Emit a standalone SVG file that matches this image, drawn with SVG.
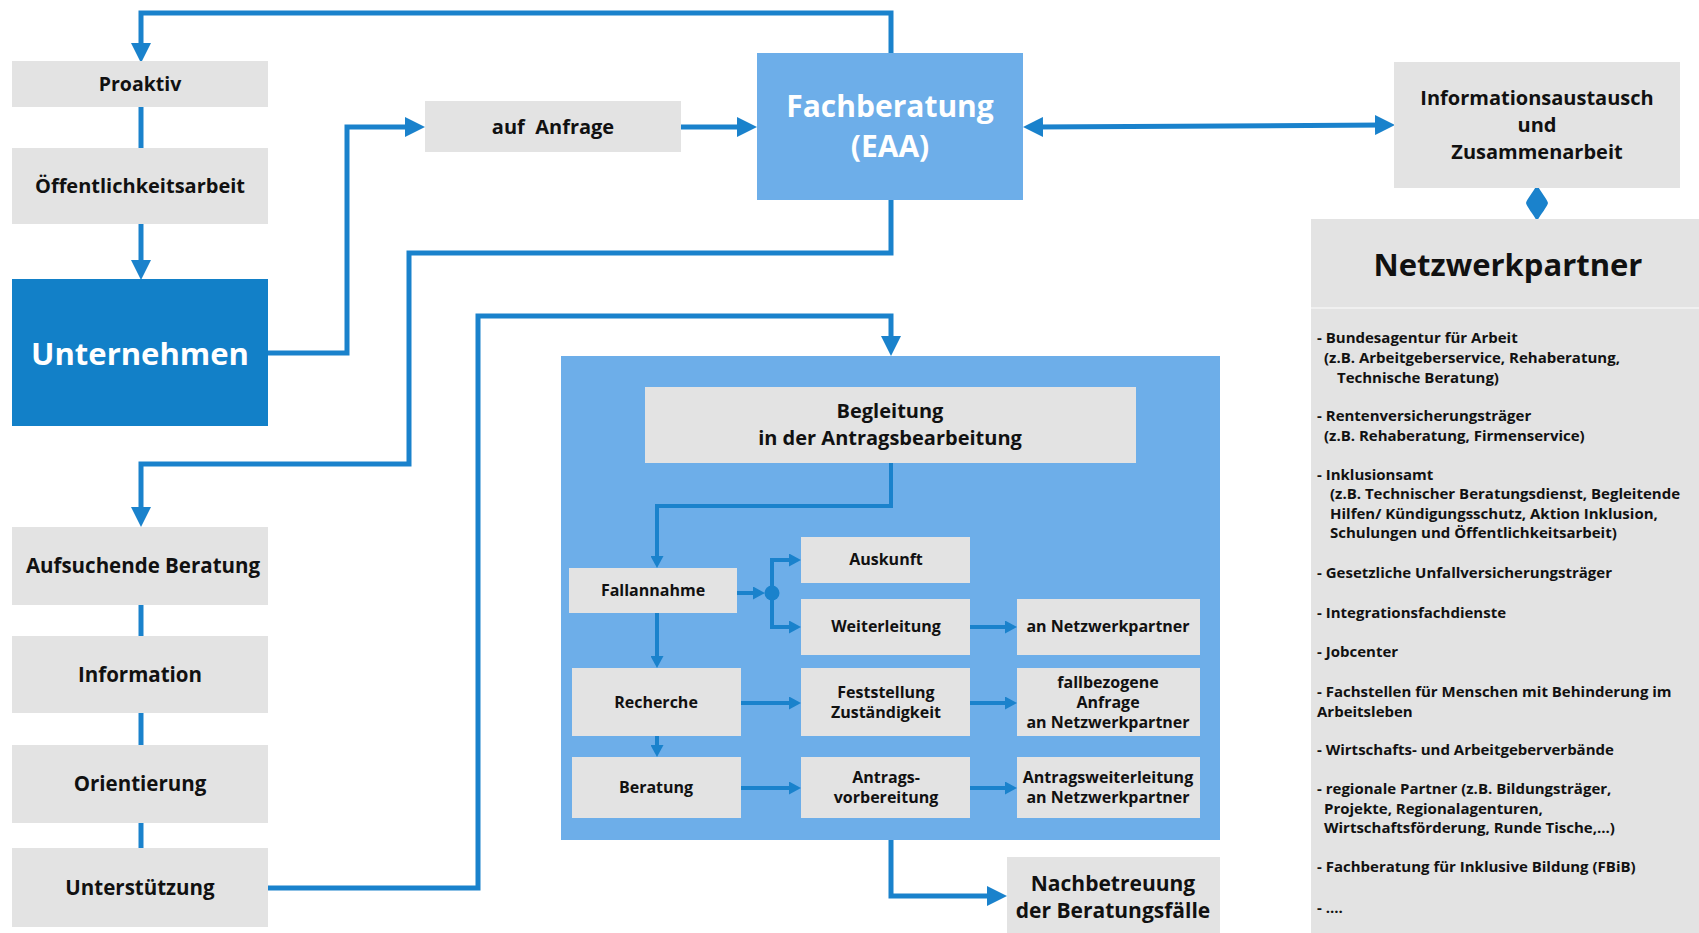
<svg xmlns="http://www.w3.org/2000/svg" width="1699" height="933" viewBox="0 0 1699 933">
<defs>
<style>
.g{fill:#e3e3e3}
.t{font-family:"Open Sans","Liberation Sans",sans-serif;font-weight:700;fill:#111;text-anchor:middle;dominant-baseline:central}
.w{fill:#fff}
.c{fill:none;stroke:#1a82cc;stroke-width:5;stroke-linejoin:miter}
.ci{fill:none;stroke:#1a82cc;stroke-width:4}
.l{font-family:"Open Sans","Liberation Sans",sans-serif;font-weight:700;fill:#111;font-size:15px}
</style>
<marker id="big" viewBox="0 0 20 20" refX="8" refY="10" markerWidth="20" markerHeight="20" markerUnits="userSpaceOnUse" orient="auto-start-reverse">
<path d="M0,0 L20,10 L0,20 Z" fill="#1a82cc"/>
</marker>
<marker id="sm" viewBox="0 0 12 13" refX="6" refY="6.5" markerWidth="12" markerHeight="13" markerUnits="userSpaceOnUse" orient="auto">
<path d="M0,0 L12,6.5 L0,13 Z" fill="#1a82cc"/>
</marker>
</defs>
<rect width="1699" height="933" fill="#fff"/>

<g id="container">
<rect x="561" y="356" width="659" height="484" fill="#6daee9"/>
</g>

<g id="connectors">
<path class="c" d="M891,53 V13 H141 V51" marker-end="url(#big)"/>
<path class="c" d="M141,107 V148"/>
<path class="c" d="M141,224 V268" marker-end="url(#big)"/>
<path class="c" d="M268,353 H347 V127 H413" marker-end="url(#big)"/>
<path class="c" d="M681,127 H745" marker-end="url(#big)"/>
<path class="c" d="M1035,127 L1383,125" marker-start="url(#big)" marker-end="url(#big)"/>
<path class="c" d="M891,200 V253 H409 V464 H141 V515" marker-end="url(#big)"/>
<path class="c" d="M141,605 V636"/>
<path class="c" d="M141,713 V745"/>
<path class="c" d="M141,823 V848"/>
<path class="c" d="M268,888 H478 V316 H891 V344" marker-end="url(#big)"/>
<path class="c" d="M891,840 V896 H995" marker-end="url(#big)"/>
<path d="M1537,185 C1541,192 1547,199 1548,203 C1547,207 1541,214 1537,221 C1533,214 1527,207 1526,203 C1527,199 1533,192 1537,185 Z" fill="#1a82cc"/>
<path class="ci" d="M891,463 V506 H657 V562" marker-end="url(#sm)"/>
<path class="ci" d="M737,593 H759" marker-end="url(#sm)"/>
<circle cx="772" cy="593" r="7.5" fill="#1a82cc"/>
<path class="ci" d="M772,593 V560 H795" marker-end="url(#sm)"/>
<path class="ci" d="M772,593 V627 H795" marker-end="url(#sm)"/>
<path class="ci" d="M970,627 H1011" marker-end="url(#sm)"/>
<path class="ci" d="M657,613 V662" marker-end="url(#sm)"/>
<path class="ci" d="M741,703 H795" marker-end="url(#sm)"/>
<path class="ci" d="M970,703 H1011" marker-end="url(#sm)"/>
<path class="ci" d="M657,736 V751" marker-end="url(#sm)"/>
<path class="ci" d="M741,788 H795" marker-end="url(#sm)"/>
<path class="ci" d="M970,788 H1011" marker-end="url(#sm)"/>
</g>

<g id="proaktiv"><rect class="g" x="12" y="61" width="256" height="46"/><text class="t" x="140" y="83" font-size="19.5">Proaktiv</text></g>
<g id="oeffentlichkeitsarbeit"><rect class="g" x="12" y="148" width="256" height="76"/><text class="t" x="140" y="185" font-size="20">Öffentlichkeitsarbeit</text></g>
<g id="unternehmen"><rect x="12" y="279" width="256" height="147" fill="#1280c8"/><text class="t w" x="140" y="353" font-size="31">Unternehmen</text></g>
<g id="aufanfrage"><rect class="g" x="425" y="101" width="256" height="51"/><text class="t" x="553" y="126" font-size="20" xml:space="preserve">auf  Anfrage</text></g>
<g id="fachberatung"><rect x="757" y="53" width="266" height="147" fill="#6daee9"/><text class="t w" x="890" y="105" font-size="30">Fachberatung</text><text class="t w" x="890" y="145" font-size="30">(EAA)</text></g>
<g id="info"><rect class="g" x="1394" y="62" width="286" height="126"/><text class="t" x="1537" y="97" font-size="20">Informationsaustausch</text><text class="t" x="1537" y="124" font-size="20">und</text><text class="t" x="1537" y="151" font-size="20">Zusammenarbeit</text></g>

<g id="aufsuchende"><rect class="g" x="12" y="527" width="256" height="78"/><text class="t" x="143" y="565" font-size="20.5">Aufsuchende Beratung</text></g>
<g id="information"><rect class="g" x="12" y="636" width="256" height="77"/><text class="t" x="140" y="674" font-size="20.5">Information</text></g>
<g id="orientierung"><rect class="g" x="12" y="745" width="256" height="78"/><text class="t" x="140" y="783" font-size="20.5">Orientierung</text></g>
<g id="unterstuetzung"><rect class="g" x="12" y="848" width="256" height="79"/><text class="t" x="140" y="887" font-size="20.5">Unterstützung</text></g>

<g id="begleitung"><rect class="g" x="645" y="387" width="491" height="76"/><text class="t" x="890" y="410" font-size="20">Begleitung</text><text class="t" x="890" y="437" font-size="20">in der Antragsbearbeitung</text></g>
<g id="fallannahme"><rect class="g" x="569" y="568" width="168" height="45"/><text class="t" x="653" y="590" font-size="16">Fallannahme</text></g>
<g id="auskunft"><rect class="g" x="801" y="537" width="169" height="46"/><text class="t" x="886" y="559" font-size="16">Auskunft</text></g>
<g id="weiterleitung"><rect class="g" x="801" y="599" width="169" height="56"/><text class="t" x="886" y="626" font-size="16">Weiterleitung</text></g>
<g id="annetzwerk"><rect class="g" x="1017" y="599" width="183" height="56"/><text class="t" x="1108" y="626" font-size="16">an Netzwerkpartner</text></g>
<g id="recherche"><rect class="g" x="572" y="668" width="169" height="68"/><text class="t" x="656" y="702" font-size="16">Recherche</text></g>
<g id="feststellung"><rect class="g" x="801" y="668" width="169" height="68"/><text class="t" x="886" y="692" font-size="16">Feststellung</text><text class="t" x="886" y="712" font-size="16">Zuständigkeit</text></g>
<g id="fallbezogene"><rect class="g" x="1017" y="668" width="183" height="68"/><text class="t" x="1108" y="682" font-size="16">fallbezogene</text><text class="t" x="1108" y="702" font-size="16">Anfrage</text><text class="t" x="1108" y="722" font-size="16">an Netzwerkpartner</text></g>
<g id="beratung"><rect class="g" x="572" y="757" width="169" height="61"/><text class="t" x="656" y="787" font-size="16">Beratung</text></g>
<g id="antragsvorbereitung"><rect class="g" x="801" y="757" width="169" height="61"/><text class="t" x="886" y="777" font-size="16">Antrags-</text><text class="t" x="886" y="797" font-size="16">vorbereitung</text></g>
<g id="antragsweiterleitung"><rect class="g" x="1017" y="757" width="183" height="61"/><text class="t" x="1108" y="777" font-size="16">Antragsweiterleitung</text><text class="t" x="1108" y="797" font-size="16">an Netzwerkpartner</text></g>

<g id="nachbetreuung"><rect class="g" x="1007" y="857" width="213" height="76"/><text class="t" x="1113" y="883" font-size="21">Nachbetreuung</text><text class="t" x="1113" y="910" font-size="21">der Beratungsfälle</text></g>

<g id="netzwerkpartner">
<rect class="g" x="1311" y="219" width="388" height="714"/>
<line x1="1311" y1="308" x2="1699" y2="308" stroke="#f4f4f4" stroke-width="1.5"/>
<text class="t" x="1508" y="264" font-size="31">Netzwerkpartner</text>
<text class="l" xml:space="preserve">
<tspan x="1317" y="343">- Bundesagentur für Arbeit</tspan>
<tspan x="1324" y="363">(z.B. Arbeitgeberservice, Rehaberatung,</tspan>
<tspan x="1337" y="383">Technische Beratung)</tspan>
<tspan x="1317" y="421">- Rentenversicherungsträger</tspan>
<tspan x="1324" y="441">(z.B. Rehaberatung, Firmenservice)</tspan>
<tspan x="1317" y="480">- Inklusionsamt</tspan>
<tspan x="1330" y="499">(z.B. Technischer Beratungsdienst, Begleitende</tspan>
<tspan x="1330" y="519">Hilfen/ Kündigungsschutz, Aktion Inklusion,</tspan>
<tspan x="1330" y="538">Schulungen und Öffentlichkeitsarbeit)</tspan>
<tspan x="1317" y="578">- Gesetzliche Unfallversicherungsträger</tspan>
<tspan x="1317" y="618">- Integrationsfachdienste</tspan>
<tspan x="1317" y="657">- Jobcenter</tspan>
<tspan x="1317" y="697">- Fachstellen für Menschen mit Behinderung im</tspan>
<tspan x="1317" y="717">Arbeitsleben</tspan>
<tspan x="1317" y="755">- Wirtschafts- und Arbeitgeberverbände</tspan>
<tspan x="1317" y="794">- regionale Partner (z.B. Bildungsträger,</tspan>
<tspan x="1324" y="814">Projekte, Regionalagenturen,</tspan>
<tspan x="1324" y="833">Wirtschaftsförderung, Runde Tische,...)</tspan>
<tspan x="1317" y="872">- Fachberatung für Inklusive Bildung (FBiB)</tspan>
<tspan x="1317" y="913">- ....</tspan>
</text>
</g>
</svg>
